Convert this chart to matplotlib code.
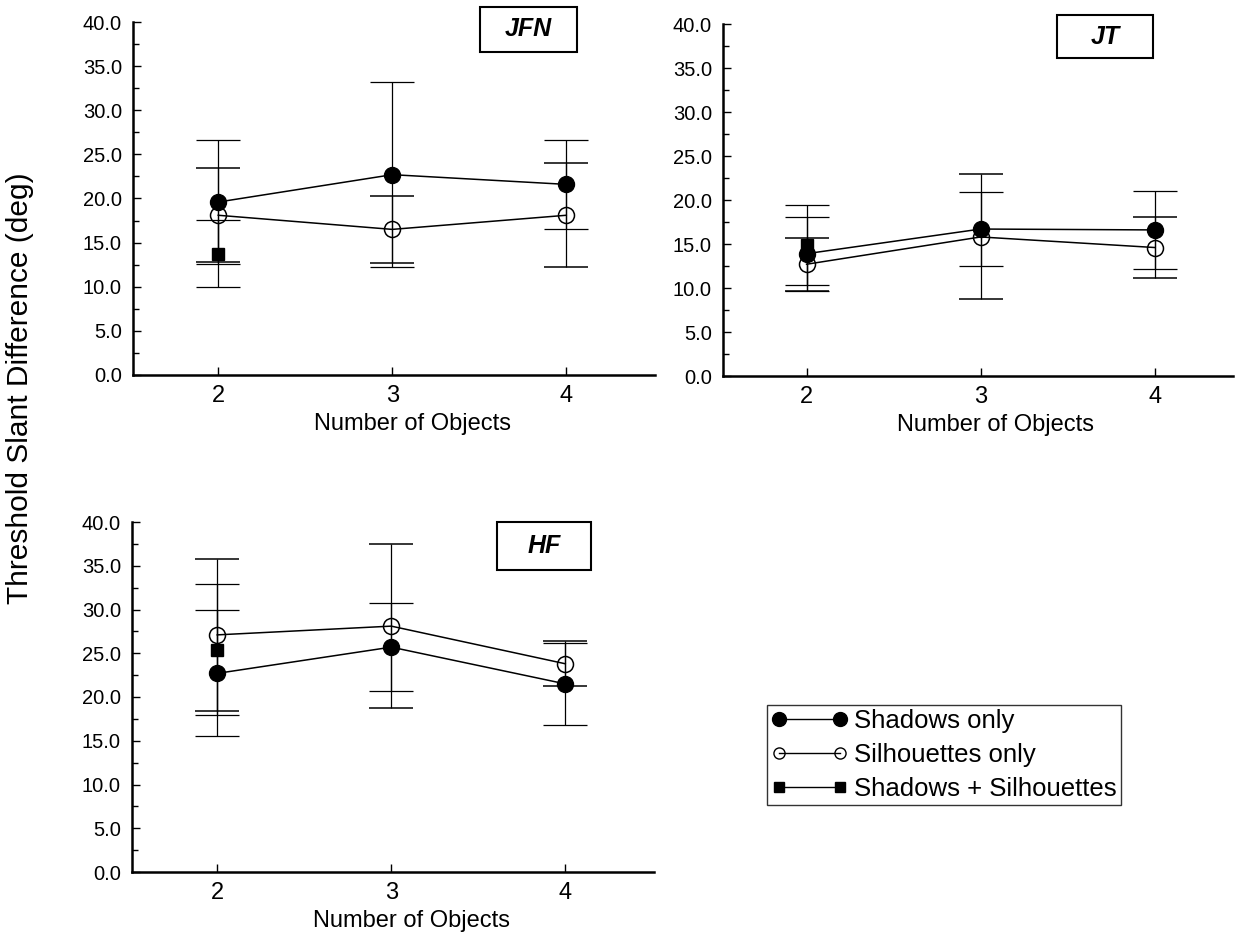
import numpy as np
import matplotlib
matplotlib.use("Agg")
import matplotlib.pyplot as plt
from matplotlib.lines import Line2D
from matplotlib.patches import Rectangle

plt.rcParams['font.family'] = ['Liberation Sans', 'DejaVu Sans']

# --- data (threshold slant difference, deg; symmetric error bars) ---
n_objects = [2, 3, 4]

jfn_shadows = [19.6, 22.7, 21.6]
jfn_shadows_err = [7.0, 10.5, 5.0]
jfn_silh = [18.1, 16.5, 18.1]
jfn_silh_err = [5.3, 3.8, 5.9]
jfn_both = [13.75]
jfn_both_err = [3.8]

jt_shadows = [13.9, 16.7, 16.6]
jt_shadows_err = [4.2, 4.2, 4.45]
jt_silh = [12.7, 15.8, 14.6]
jt_silh_err = [3.0, 7.1, 3.5]
jt_both = [14.9]
jt_both_err = [4.55]

hf_shadows = [22.7, 25.7, 21.5]
hf_shadows_err = [7.2, 5.0, 4.7]
hf_silh = [27.1, 28.1, 23.8]
hf_silh_err = [8.7, 9.4, 2.55]
hf_both = [25.4]
hf_both_err = [7.5]

W, H = 1237, 940
fig = plt.figure(figsize=(W / 100, H / 100), dpi=100)

def px_axes(l, t, r, b):
    return fig.add_axes([l / W, 1 - b / H, (r - l) / W, (b - t) / H])

def panel(ax, xlim, sh, sh_e, si, si_e, bo, bo_e):
    ax.errorbar(n_objects, sh, yerr=sh_e, fmt="o-", color="black", ms=11.5, lw=1.1,
                elinewidth=0.9, capsize=16, capthick=0.9, zorder=3)
    ax.errorbar(n_objects, si, yerr=si_e, fmt="o-", color="black", mfc="none", mew=1.1,
                ms=11.5, lw=1.1, elinewidth=0.9, capsize=16, capthick=0.9, zorder=3)
    ax.errorbar(n_objects[:1], bo, yerr=bo_e, fmt="s", color="black", ms=9,
                elinewidth=0.9, capsize=16, capthick=0.9, zorder=3)
    ax.set_xlim(*xlim)
    ax.set_ylim(0, 40)
    ax.set_xticks(n_objects)
    ax.set_yticks(np.arange(0, 40.1, 5))
    ax.set_yticks(np.arange(0, 40.1, 2.5), minor=True)
    ax.set_yticklabels([f"{v:.1f}" for v in np.arange(0, 40.1, 5)])
    for s in ("top", "right"):
        ax.spines[s].set_visible(False)
    for s in ("left", "bottom"):
        ax.spines[s].set_linewidth(1.8)
    ax.tick_params(axis="y", which="major", direction="in", length=6, width=1, labelsize=14.5, pad=8)
    ax.tick_params(axis="y", which="minor", direction="in", length=4, width=1)
    ax.tick_params(axis="x", direction="in", length=6, width=1, labelsize=17, pad=7)
    ax.set_xlabel("Number of Objects", fontsize=17)
    ax.xaxis.set_label_coords(0.535, -38 / (ax.get_position().height * H))

def tag(text, l, t, r, b):
    fig.add_artist(Rectangle((l / W, 1 - b / H), (r - l) / W, (b - t) / H,
                             transform=fig.transFigure, fill=False, lw=1.5, ec="black"))
    fig.text((l + r) / 2 / W, 1 - (t + b) / 2 / H, text, ha="center", va="center",
             fontsize=18, fontweight="bold", fontstyle="italic")

ax1 = px_axes(133, 22, 655, 375)
panel(ax1, (1.51, 4.51), jfn_shadows, jfn_shadows_err, jfn_silh, jfn_silh_err, jfn_both, jfn_both_err)
tag("JFN", 480, 7, 577, 52)

ax2 = px_axes(723, 24, 1233, 376)
panel(ax2, (1.52, 4.45), jt_shadows, jt_shadows_err, jt_silh, jt_silh_err, jt_both, jt_both_err)
tag("JT", 1057, 15, 1153, 58)

ax3 = px_axes(132, 522, 654, 872)
panel(ax3, (1.51, 4.51), hf_shadows, hf_shadows_err, hf_silh, hf_silh_err, hf_both, hf_both_err)
tag("HF", 497, 522, 591, 570)

fig.text(20 / W, 1 - 388 / H, "Threshold Slant Difference (deg)", rotation=90,
         ha="center", va="center", fontsize=21.5)

handles = [
    Line2D([], [], color="black", lw=1, marker="o", ms=10),
    Line2D([], [], color="black", lw=1, marker="o", ms=8, mfc="none"),
    Line2D([], [], color="black", lw=1, marker="s", ms=7.5),
]
labels = ["Shadows only", "Silhouettes only", "Shadows + Silhouettes"]
leg = fig.legend(handles, labels, loc="upper left", bbox_to_anchor=(767 / W, 1 - 705 / H),
                 numpoints=2, fontsize=18.5, frameon=True, fancybox=False, borderpad=0.15,
                 handlelength=3.0, handletextpad=0.25, labelspacing=0.4, borderaxespad=0)
leg.get_frame().set_edgecolor("black")
leg.get_frame().set_linewidth(1.0)

fig.savefig("out.png", dpi=100)
